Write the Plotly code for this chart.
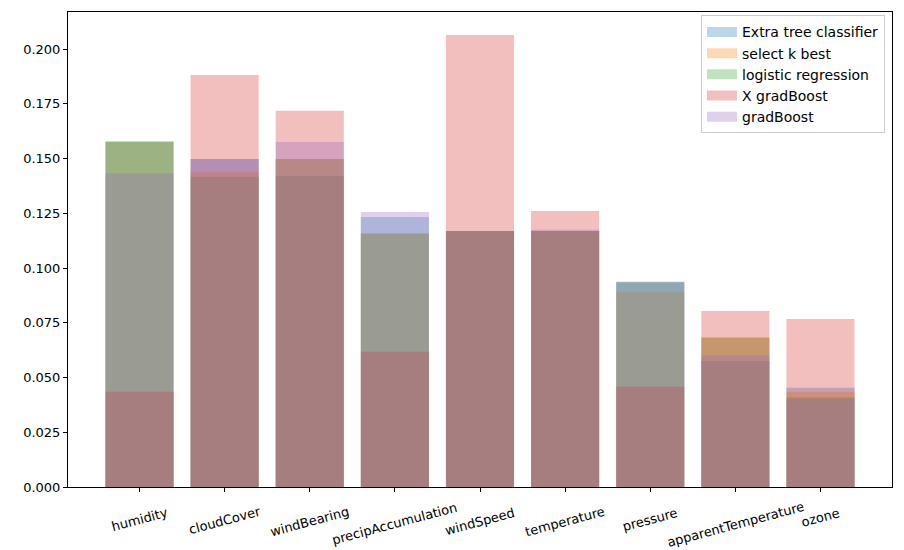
import plotly.graph_objects as go

features = ["humidity", "cloudCover", "windBearing", "precipAccumulation", "windSpeed",
            "temperature", "pressure", "apparentTemperature", "ozone"]

extra_tree = [0.1578, 0.1498, 0.1420, 0.1233, 0.1169, 0.1169, 0.0935, 0.0575, 0.0453]
select_k_best = [0.1574, 0.1440, 0.1498, 0.1158, 0.1169, 0.1169, 0.0889, 0.0685, 0.0435]
logistic_regression = [0.1578, 0.1417, 0.1498, 0.1158, 0.1169, 0.1169, 0.0935, 0.0680, 0.0410]
x_gradboost = [0.0435, 0.1881, 0.1718, 0.0618, 0.2064, 0.1260, 0.0458, 0.0804, 0.0767]
gradboost = [0.1431, 0.1498, 0.1575, 0.1256, 0.1169, 0.1175, 0.0938, 0.0600, 0.0402]

series = [
    ("Extra tree classifier", extra_tree, "rgba(31,119,180,0.3)"),
    ("select k best", select_k_best, "rgba(255,127,14,0.3)"),
    ("logistic regression", logistic_regression, "rgba(44,160,44,0.3)"),
    ("X gradBoost", x_gradboost, "rgba(214,39,40,0.3)"),
    ("gradBoost", gradboost, "rgba(148,103,189,0.3)"),
]

positions = list(range(len(features)))

fig = go.Figure()
for name, vals, color in series:
    fig.add_trace(go.Bar(x=positions, y=vals, name=name, legendgroup=name,
                         showlegend=False,
                         marker=dict(color=color, line=dict(width=0)), width=0.8))
# legend entries drawn as wide patches (matplotlib style)
for name, vals, color in series:
    fig.add_trace(go.Scatter(x=[None], y=[None], mode="lines", name=name,
                             legendgroup=name, line=dict(color=color, width=10),
                             hoverinfo="skip"))

# x tick labels: rotated 15 degrees, centred on each tick (matplotlib style)
for pos, label in zip(positions, features):
    fig.add_annotation(x=pos, xref="x", y=0, yref="paper", text=label,
                       textangle=-15, xanchor="center", yanchor="top",
                       yshift=-(17 - 0.6 * max(0, len(label) - 8)),
                       showarrow=False, borderpad=0,
                       font=dict(family="DejaVu Sans", size=13, color="black"))

font = dict(family="DejaVu Sans", size=13, color="black")
fig.update_layout(
    width=904, height=550,
    barmode="overlay",
    margin=dict(l=68, r=12, t=12, b=63, autoexpand=False),
    paper_bgcolor="white", plot_bgcolor="white",
    font=font,
    showlegend=True,
    legend=dict(x=0.9915, y=0.993, xanchor="right", yanchor="top",
                bgcolor="rgba(255,255,255,0.8)", bordercolor="#cccccc", borderwidth=1,
                traceorder="normal", font=dict(family="DejaVu Sans", size=14),
                itemwidth=30, tracegroupgap=0),
    xaxis=dict(range=[-0.84, 8.84], tickmode="array", tickvals=positions,
               showticklabels=False, automargin=False,
               showline=True, linecolor="black",
               linewidth=1, mirror=True, ticks="outside", ticklen=4, tickcolor="black",
               showgrid=False, zeroline=False),
    yaxis=dict(range=[0, 0.2169], tickmode="linear", tick0=0, dtick=0.025,
               tickformat=".3f", showline=True, linecolor="black", linewidth=1,
               mirror=True, ticks="outside", ticklen=4, tickcolor="black",
               showgrid=False, zeroline=False, automargin=False),
)

fig.write_html("out.html")
